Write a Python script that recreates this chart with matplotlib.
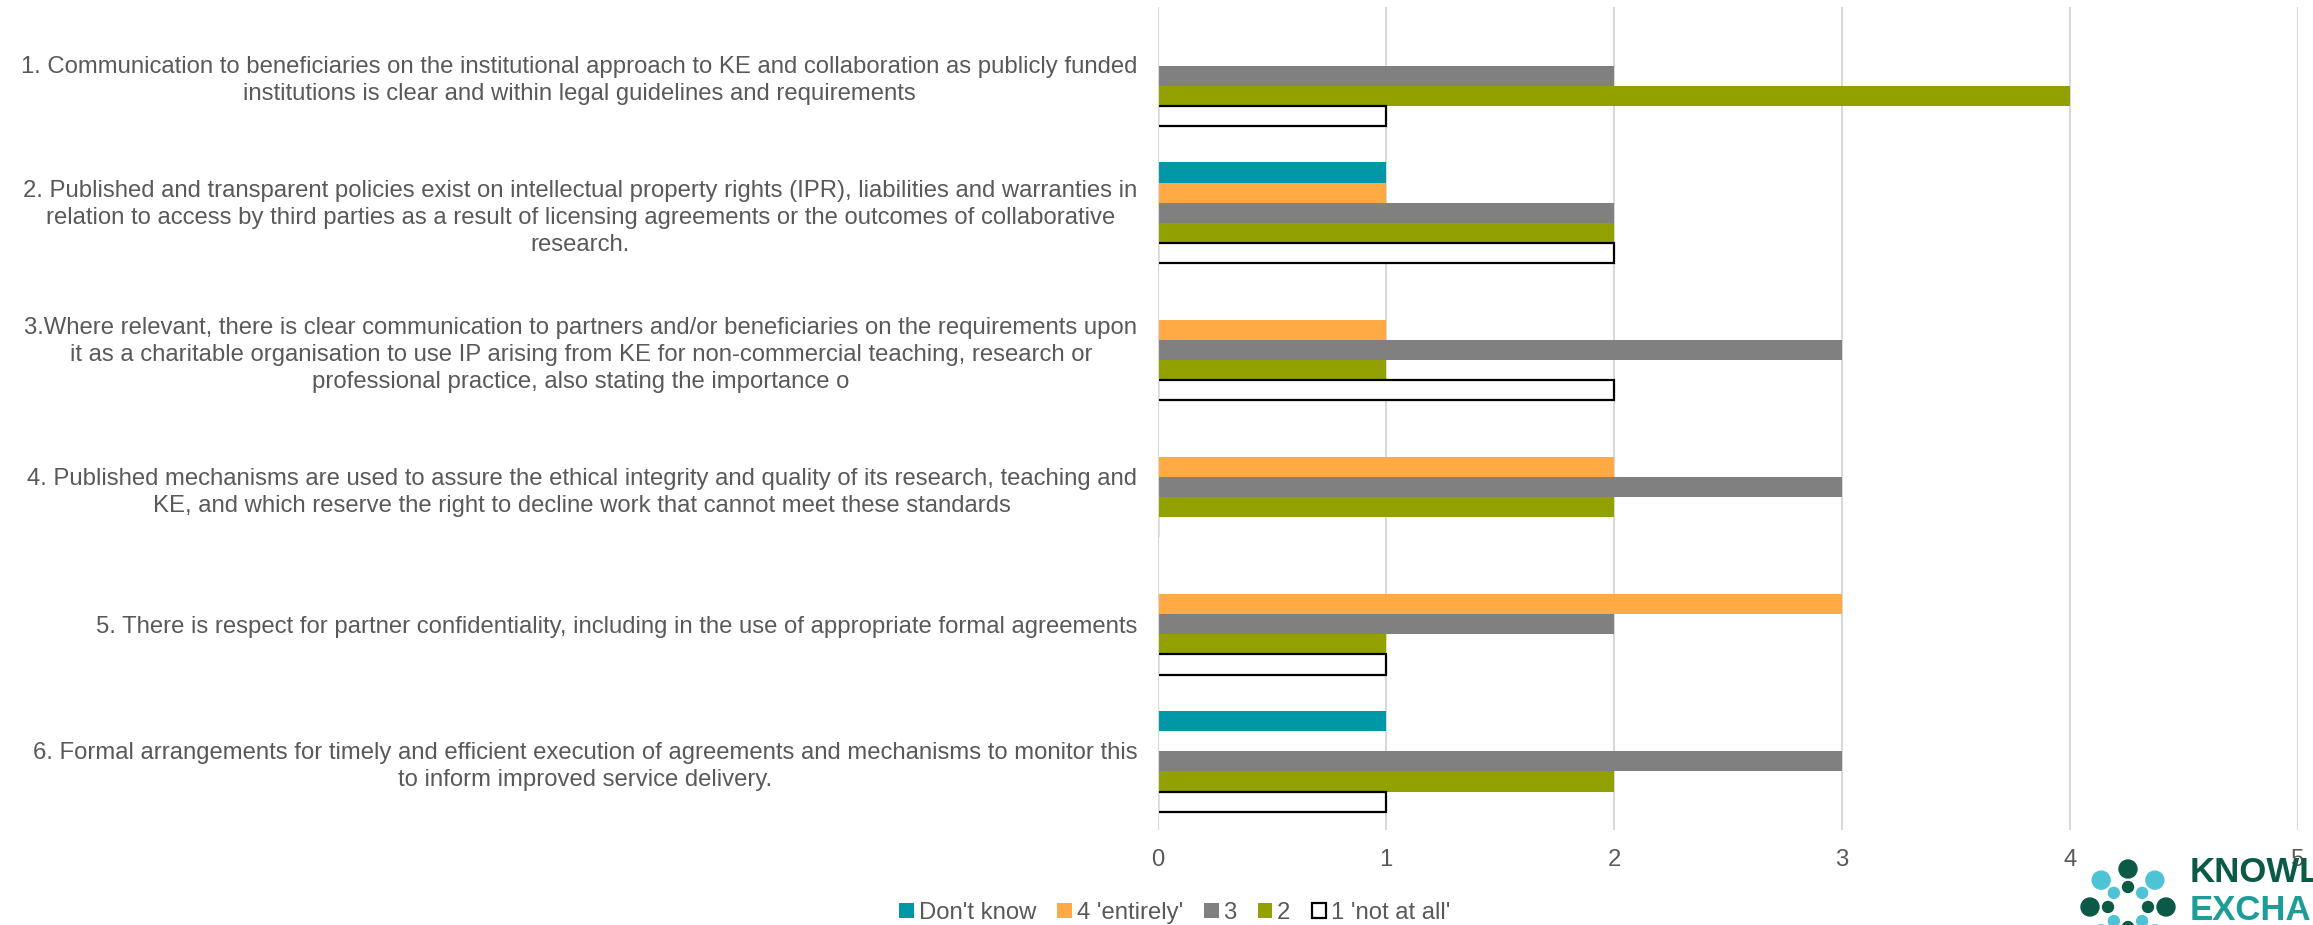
import numpy as np
import matplotlib.pyplot as plt
from matplotlib.patches import Circle

plt.rcParams['font.family'] = ['Liberation Sans', 'DejaVu Sans']
fsize = 17.2
txt_col = "#595959"

categories = [
    "1. Communication to beneficiaries on the institutional approach to KE and collaboration as publicly funded\ninstitutions is clear and within legal guidelines and requirements",
    "2. Published and transparent policies exist on intellectual property rights (IPR), liabilities and warranties in\nrelation to access by third parties as a result of licensing agreements or the outcomes of collaborative\nresearch.",
    "3.Where relevant, there is clear communication to partners and/or beneficiaries on the requirements upon\nit as a charitable organisation to use IP arising from KE for non-commercial teaching, research or\nprofessional practice, also stating the importance o",
    "4. Published mechanisms are used to assure the ethical integrity and quality of its research, teaching and\nKE, and which reserve the right to decline work that cannot meet these standards",
    "5. There is respect for partner confidentiality, including in the use of appropriate formal agreements",
    "6. Formal arrangements for timely and efficient execution of agreements and mechanisms to monitor this\nto inform improved service delivery.",
]

series_names = ["Don't know", "4 'entirely'", "3", "2", "1 'not at all'"]
dont_know   = [0, 1, 0, 0, 0, 1]
entirely    = [0, 1, 1, 2, 3, 0]
three       = [2, 2, 3, 3, 2, 3]
two         = [4, 2, 1, 2, 1, 2]
not_at_all  = [1, 2, 2, 0, 1, 1]
series_vals = [dont_know, entirely, three, two, not_at_all]

colors = ["#0098A6", "#FFAA44", "#808080", "#92A100", "#FFFFFF"]
edges = ["none", "none", "none", "none", "black"]

fig = plt.figure(figsize=(23.13, 9.25), dpi=100)
ax = fig.add_axes([0.5007, 0.1027, 0.4928, 0.8897])

n = len(series_vals)
h = 1 / (n + 1.82)
y = np.arange(len(categories))
for k, (name, vals) in enumerate(zip(series_names, series_vals)):
    off = (k - (n - 1) / 2) * h
    ax.barh(y + off, vals, height=h, color=colors[k], edgecolor=edges[k],
            linewidth=1.6 if edges[k] != "none" else 0, label=name, zorder=3)

ax.set_xlim(0, 5)
ax.set_ylim(len(categories) - 0.5, -0.5)
ax.set_xticks(range(6))
ax.set_yticks(y)
ax.set_yticklabels(categories, fontsize=fsize, color=txt_col, ha="right",
                   multialignment="center", linespacing=1.3)
ax.tick_params(axis="x", labelsize=fsize, colors=txt_col, length=0, pad=14)
ax.tick_params(axis="y", length=0, pad=15)
ax.grid(axis="x", color="#D9D9D9", linewidth=1.5, zorder=0)
for s in ax.spines.values():
    s.set_visible(False)
ax.axvline(0, color="#D9D9D9", linewidth=1.5, zorder=4)

fig.legend(loc="center", bbox_to_anchor=(1175 / 2313, 1 - 913 / 925), ncol=5, frameon=False,
           fontsize=fsize, labelcolor=txt_col, handlelength=0.6, handleheight=0.6,
           handletextpad=0.2, columnspacing=0.9)

# logo in the bottom right corner (partially cut by the page edge)
H = 925
cx, cy = 2128, 907
dark, light = "#0B5A48", "#4FC3D6"
for ang in range(0, 360, 45):
    a = np.deg2rad(ang)
    col = dark if ang % 90 == 0 else light
    for rr, rad in [(38, 9), (20, 5.5)]:
        px = cx + rr * np.cos(a)
        py = cy - rr * np.sin(a)
        fig.patches.append(Circle((px / 100, (H - py) / 100), rad / 100,
                                  transform=fig.dpi_scale_trans, color=col, zorder=10))
fig.text(2190 / 2313, 1 - 873 / H, "KNOWLEDGE", fontsize=25, fontweight="bold", color=dark,
         va="center", ha="left")
fig.text(2190 / 2313, 1 - 910 / H, "EXCHANGE", fontsize=25, fontweight="bold", color="#1E9C97",
         va="center", ha="left")

plt.savefig("out.png", dpi=100)
